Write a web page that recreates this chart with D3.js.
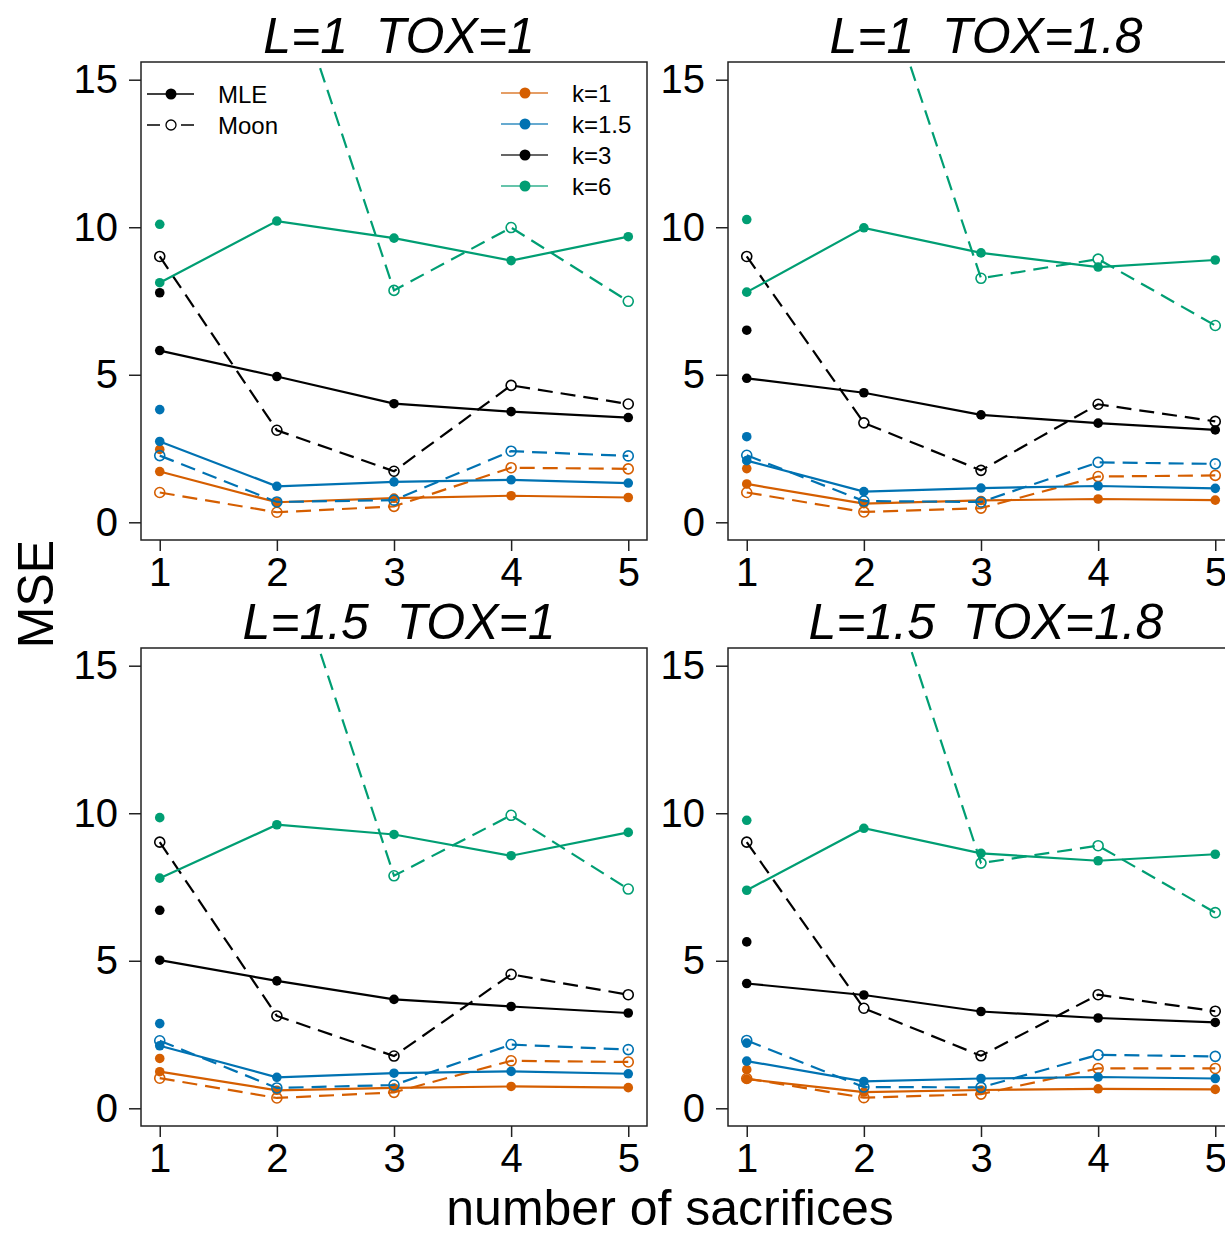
<!DOCTYPE html>
<html>
<head>
<meta charset="utf-8">
<script src="https://cdn.jsdelivr.net/npm/d3@7"></script>
<style>
  body { margin: 0; background: #fff; }
  svg { display: block; font-family: "Liberation Sans", Arial, sans-serif; }
</style>
</head>
<body>
<div id="chart"></div>
<script>
// x values and labels
const sacrifices = [1, 2, 3, 4, 5]
const yTicks = [0, 5, 10, 15]
const kLabels = ['k=1', 'k=1.5', 'k=3', 'k=6']
const methodLabels = ['MLE', 'Moon']
const panelTitles = ['L=1  TOX=1', 'L=1  TOX=1.8', 'L=1.5  TOX=1', 'L=1.5  TOX=1.8']

// MSE, one row per k (1, 1.5, 3, 6), one value per number of sacrifices
const mleP1 = [
  [1.72, 0.68, 0.82, 0.90, 0.84],
  [2.74, 1.22, 1.37, 1.44, 1.33],
  [5.82, 4.94, 4.02, 3.75, 3.55],
  [8.12, 10.21, 9.63, 8.87, 9.68]
]
const moonP1 = [
  [1.01, 0.34, 0.54, 1.85, 1.81],
  [2.26, 0.69, 0.75, 2.41, 2.25],
  [9.01, 3.12, 1.73, 4.64, 4.01],
  [30, 19.8, 7.86, 9.99, 7.49]
]
const singleP1 = [2.47, 3.82, 7.78, 10.10]

const mleP2 = [
  [1.30, 0.63, 0.74, 0.79, 0.75],
  [2.09, 1.04, 1.16, 1.23, 1.15],
  [4.88, 4.39, 3.64, 3.36, 3.13],
  [7.80, 9.98, 9.13, 8.65, 8.89]
]
const moonP2 = [
  [1.01, 0.35, 0.48, 1.55, 1.59],
  [2.27, 0.72, 0.69, 2.03, 1.98],
  [9.01, 3.37, 1.76, 4.00, 3.42],
  [30, 20.2, 8.27, 8.92, 6.67]
]
const singleP2 = [1.82, 2.90, 6.51, 10.26]

const mleP3 = [
  [1.24, 0.61, 0.69, 0.74, 0.70],
  [2.12, 1.05, 1.19, 1.25, 1.17],
  [5.02, 4.32, 3.69, 3.45, 3.23],
  [7.80, 9.61, 9.28, 8.56, 9.35]
]
const moonP3 = [
  [1.02, 0.35, 0.54, 1.61, 1.57],
  [2.29, 0.69, 0.79, 2.16, 1.99],
  [9.02, 3.13, 1.77, 4.54, 3.85],
  [30, 19.9, 7.88, 9.93, 7.43]
]
const singleP3 = [1.69, 2.87, 6.71, 9.85]

const mleP4 = [
  [0.99, 0.55, 0.62, 0.66, 0.64],
  [1.60, 0.91, 1.01, 1.06, 1.01],
  [4.23, 3.84, 3.28, 3.06, 2.91],
  [7.39, 9.49, 8.64, 8.39, 8.61]
]
const moonP4 = [
  [1.01, 0.36, 0.48, 1.35, 1.35],
  [2.30, 0.72, 0.71, 1.81, 1.76],
  [9.02, 3.39, 1.78, 3.85, 3.29],
  [30, 20.4, 8.31, 8.90, 6.63]
]
const singleP4 = [1.31, 2.21, 5.64, 9.76]

const kColors = ['#D55E00', '#0072B2', '#000000', '#009E73']

const panels = [
  { title: panelTitles[0], mle: mleP1, moon: moonP1, single: singleP1, left: 141, top: 62, legend: true },
  { title: panelTitles[1], mle: mleP2, moon: moonP2, single: singleP2, left: 728, top: 62 },
  { title: panelTitles[2], mle: mleP3, moon: moonP3, single: singleP3, left: 141, top: 648 },
  { title: panelTitles[3], mle: mleP4, moon: moonP4, single: singleP4, left: 728, top: 648 }
]

const W = 1225
const H = 1234
const pw = 506
const ph = 478
const font = '"Liberation Sans", Arial, sans-serif'

const svg = d3.select('#chart')
              .append('svg')
              .attr('width', W)
              .attr('height', H)

const xScale = d3.scaleLinear()
                 .domain([0.84, 5.16])
                 .range([0, pw])
const yScale = d3.scaleLinear()
                 .domain([-0.6, 15.6])
                 .range([ph, 0])

const line = d3.line()
               .x((d, i) => xScale(sacrifices[i]))
               .y(d => yScale(d))

panels.forEach((p, pi) => {
  const g = svg.append('g')
               .attr('transform', 'translate(' + p.left + ',' + p.top + ')')

  svg.append('clipPath')
     .attr('id', 'clip' + pi)
     .append('rect')
     .attr('width', pw)
     .attr('height', ph)

  // axes
  const yAxis = d3.axisLeft(yScale).tickValues(yTicks).tickFormat(d3.format('d')).tickSize(12).tickPadding(11)
  const xAxis = d3.axisBottom(xScale).tickValues(sacrifices).tickFormat(d3.format('d')).tickSize(11).tickPadding(7)

  const ya = g.append('g').call(yAxis)
  const xa = g.append('g').attr('transform', 'translate(0,' + ph + ')').call(xAxis)
  ;[ya, xa].forEach(a => {
    a.select('.domain').remove()
    a.selectAll('.tick line').attr('stroke', '#222').attr('stroke-width', 1.5)
    a.selectAll('.tick text')
     .attr('fill', '#000')
     .style('font-family', font)
     .style('font-size', '40px')
  })

  // title
  g.append('text')
   .attr('x', pw / 2 + 5)
   .attr('y', -9)
   .attr('text-anchor', 'middle')
   .style('font-family', font)
   .style('font-size', '50px')
   .style('font-style', 'italic')
   .style('white-space', 'pre')
   .text(p.title)

  const plot = g.append('g').attr('clip-path', 'url(#clip' + pi + ')')

  kLabels.forEach((k, ki) => {
    const col = kColors[ki]
    plot.append('path')
        .attr('d', line(p.mle[ki]))
        .attr('fill', 'none')
        .attr('stroke', col)
        .attr('stroke-width', 2.2)
    plot.append('path')
        .attr('d', line(p.moon[ki]))
        .attr('fill', 'none')
        .attr('stroke', col)
        .attr('stroke-width', 2.2)
        .attr('stroke-dasharray', '15,8')
    plot.selectAll(null)
        .data(p.mle[ki])
        .enter()
        .append('circle')
        .attr('cx', (d, i) => xScale(sacrifices[i]))
        .attr('cy', d => yScale(d))
        .attr('r', 4.8)
        .attr('fill', col)
    plot.selectAll(null)
        .data(p.moon[ki])
        .enter()
        .append('circle')
        .attr('cx', (d, i) => xScale(sacrifices[i]))
        .attr('cy', d => yScale(d))
        .attr('r', 5)
        .attr('fill', 'none')
        .attr('stroke', col)
        .attr('stroke-width', 1.6)
    plot.append('circle')
        .attr('cx', xScale(sacrifices[0]))
        .attr('cy', yScale(p.single[ki]))
        .attr('r', 4.8)
        .attr('fill', col)
  })

  // box
  g.append('rect')
   .attr('width', pw)
   .attr('height', ph)
   .attr('fill', 'none')
   .attr('stroke', '#222')
   .attr('stroke-width', 1.5)

  if (p.legend) {
    const lg = g.append('g').style('font-family', font).style('font-size', '24px')
    methodLabels.forEach((m, mi) => {
      const yy = 32 + mi * 31
      lg.append('line')
        .attr('x1', 6).attr('x2', 53).attr('y1', yy).attr('y2', yy)
        .attr('stroke', '#000').attr('stroke-width', 1.3)
        .attr('stroke-dasharray', mi === 1 ? '13,21' : null)
      lg.append('circle')
        .attr('cx', 30).attr('cy', yy).attr('r', mi === 0 ? 5.5 : 5)
        .attr('fill', mi === 0 ? '#000' : 'none')
        .attr('stroke', '#000').attr('stroke-width', mi === 0 ? 0 : 1.3)
      lg.append('text')
        .attr('x', 77).attr('y', yy).attr('dy', '0.36em')
        .text(m)
    })
    kLabels.forEach((k, ki) => {
      const yy = 31 + ki * 31
      lg.append('line')
        .attr('x1', 360).attr('x2', 407).attr('y1', yy).attr('y2', yy)
        .attr('stroke', kColors[ki]).attr('stroke-width', 1.3).attr('stroke-opacity', 0.8)
      lg.append('circle')
        .attr('cx', 384).attr('cy', yy).attr('r', 5.5)
        .attr('fill', kColors[ki])
      lg.append('text')
        .attr('x', 431).attr('y', yy).attr('dy', '0.36em')
        .text(k)
    })
  }
})

// shared axis titles
svg.append('text')
   .attr('transform', 'translate(53,594) rotate(-90)')
   .attr('text-anchor', 'middle')
   .style('font-family', font)
   .style('font-size', '50px')
   .text('MSE')

svg.append('text')
   .attr('x', 670)
   .attr('y', 1225)
   .attr('text-anchor', 'middle')
   .style('font-family', font)
   .style('font-size', '50px')
   .text('number of sacrifices')
</script>
</body>
</html>
